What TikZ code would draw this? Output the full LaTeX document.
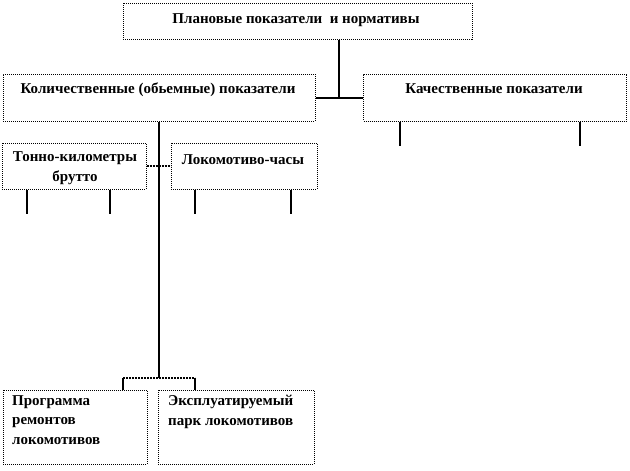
\documentclass[tikz,border=0pt]{standalone}
\usepackage{fontspec}
\setmainfont{Liberation Serif}
\usepackage{tikz}
\usetikzlibrary{calc}
\usetikzlibrary{positioning}

\begin{document}
\begin{tikzpicture}[x=1pt,y=-1pt,
  box/.style={draw,densely dotted,line width=1pt,inner sep=0pt},
  boxtext/.style={font=\bfseries\fontsize{15}{19.5}\selectfont,inner sep=0pt},
  link/.style={line width=2pt},
  dotlink/.style={line width=2pt,densely dotted}]
\useasboundingbox (0,0) rectangle (630,471);
% boxes
\node[box,minimum width=349pt,minimum height=36pt] (plan) at (297.5,21) {};
\node[box,minimum width=312pt,minimum height=47pt] (kol) at (159,97.5) {};
\node[box,minimum width=263pt,minimum height=47pt] (kach) at (495,97.5) {};
\node[box,minimum width=144pt,minimum height=46pt] (tonno) at (74,166) {};
\node[box,minimum width=146pt,minimum height=46pt] (loko) at (244,166) {};
\node[box,minimum width=144pt,minimum height=74pt] (prog) at (75,427) {};
\node[box,minimum width=156pt,minimum height=74pt] (ekspl) at (236,427) {};
% texts
\node[boxtext] (plantext) at (296,20) {Плановые показатели\ \ и нормативы};
\node[boxtext] (koltext) at (158,90) {Количественные (обьемные) показатели};
\node[boxtext] (kachtext) at (494,89) {Качественные показатели};
\node[boxtext,align=center] (tonnotext) at (75,168) {Тонно-километры\\брутто};
\node[boxtext] (lokotext) at (243,160) {Локомотиво-часы};
\node[boxtext,align=left,anchor=north west] (progtext) at (12,395) {Программа\\ремонтов\\локомотивов};
\node[boxtext,align=left,anchor=north west] (eksptext) at (168,395) {Эксплуатируемый\\парк локомотивов};
% connectors
\coordinate (mid) at ($(kol.east)!0.5!(kach.west)$);
\draw[link] (kol.east) -- (kach.west);
\draw[link] (plan.south -| mid) -- (mid);
\coordinate (bus) at (159,378);
\draw[link] (kol.south) -- (bus);
\draw[dotlink] (tonno.east) -- (loko.west);
\draw[link] (prog.north -| 123,0) -- (123,378);
\draw[dotlink] (123,378) -- (195,378);
\draw[link] (195,378) -- (ekspl.north -| 195,0);
\foreach \x/\nd in {400/kach, 580/kach, 27/tonno, 110/tonno, 195/loko, 291/loko}
    \draw[link] (\nd.south -| \x,0) -- ++(0,24);
\end{tikzpicture}
\end{document}
